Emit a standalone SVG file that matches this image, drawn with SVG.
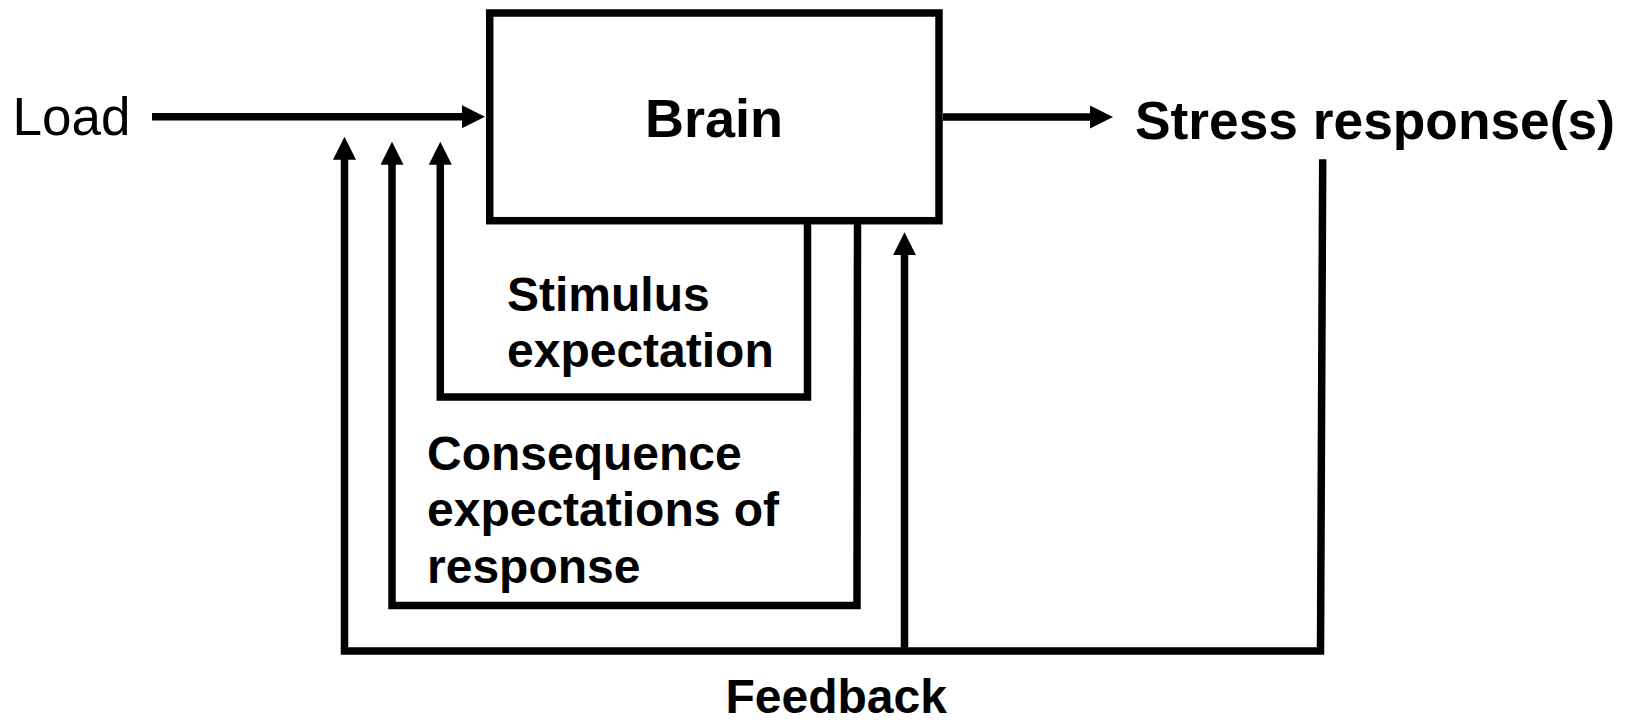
<svg xmlns="http://www.w3.org/2000/svg" width="1628" height="723" viewBox="0 0 1628 723">
  <style>
    .bg { fill: #ffffff; }
    .box { fill: #ffffff; stroke: #000000; stroke-width: 7.5; }
    .conn { fill: none; stroke: #000000; stroke-width: 7.5; stroke-linejoin: miter; stroke-linecap: butt; }
    .reg { font-family: "Liberation Sans", Arial, sans-serif; fill: #000000; }
    .bold { font-family: "Liberation Sans", Arial, sans-serif; font-weight: bold; fill: #000000; }
  </style>
  <defs>
    <marker id="arrow" markerUnits="userSpaceOnUse" markerWidth="23" markerHeight="23" viewBox="0 0 23 23" refX="3" refY="11.5" orient="auto">
      <path d="M0,0 L23,11.5 L0,23 Z" fill="#000000"/>
    </marker>
  </defs>
  <rect class="bg" x="0" y="0" width="1628" height="723"/>

  <g id="load">
    <text class="reg" x="12.5" y="135" font-size="53">Load</text>
  </g>

  <g id="brain">
    <rect class="box" x="489.7" y="13" width="449.3" height="207.7"/>
    <text class="bold" x="714" y="137" font-size="54" text-anchor="middle">Brain</text>
  </g>

  <g id="stress-response">
    <text class="bold" x="1135" y="139" font-size="53.3">Stress response(s)</text>
  </g>

  <g id="stimulus-expectation">
    <text class="bold" x="507" y="311" font-size="48">Stimulus</text>
    <text class="bold" x="507" y="366.7" font-size="48">expectation</text>
  </g>

  <g id="consequence-expectations">
    <text class="bold" x="427" y="469.5" font-size="48">Consequence</text>
    <text class="bold" x="427" y="526" font-size="48">expectations of</text>
    <text class="bold" x="427" y="582.5" font-size="48">response</text>
  </g>

  <g id="feedback">
    <text class="bold" x="725.5" y="712.5" font-size="48">Feedback</text>
  </g>

  <g id="connectors">
    <path class="conn" d="M152,116.7 H465" marker-end="url(#arrow)"/>
    <path class="conn" d="M943,117 H1093" marker-end="url(#arrow)"/>
    <path class="conn" d="M807.5,224 V397 H440.3 V161.7" marker-end="url(#arrow)"/>
    <path class="conn" d="M857.5,224 L857,605.5 H392 V161.7" marker-end="url(#arrow)"/>
    <path class="conn" d="M1322.7,159.3 L1320.5,651 H344.5 V156.7" marker-end="url(#arrow)"/>
    <path class="conn" d="M904.5,651 V252.3" marker-end="url(#arrow)"/>
  </g>
</svg>
